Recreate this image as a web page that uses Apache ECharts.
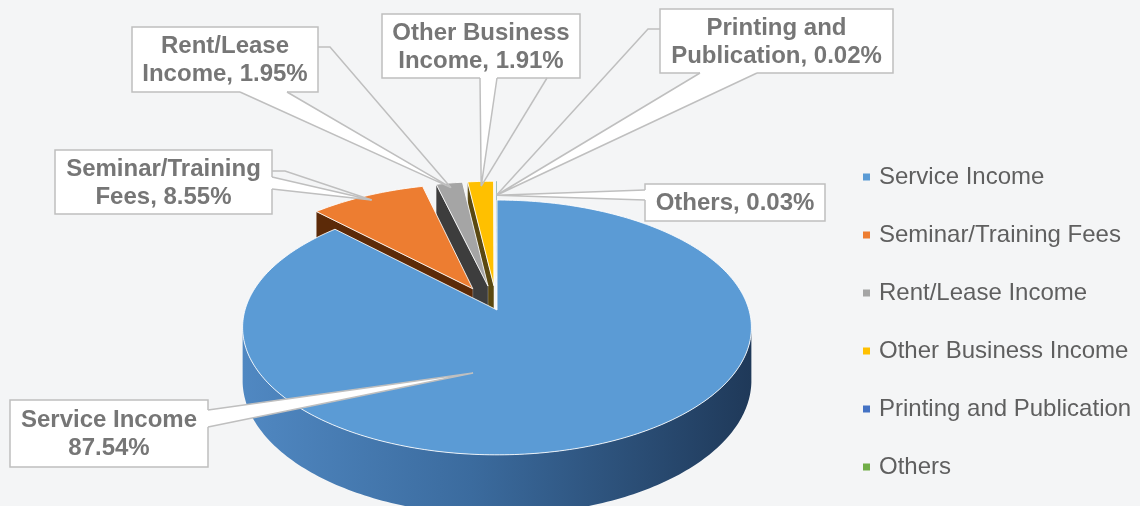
<!DOCTYPE html>
<html>
<head>
<meta charset="utf-8">
<title>Income Distribution</title>
<style>
  html, body { margin: 0; padding: 0; background: #f4f5f6; }
  #chart { width: 1140px; height: 506px; }
</style>
<script src="https://cdn.jsdelivr.net/npm/echarts@6/dist/echarts.min.js"></script>
</head>
<body>
<div id="chart"></div>
<script>
// ---- data ----
const categories = ['Service Income', 'Seminar/Training Fees', 'Rent/Lease Income',
                    'Other Business Income', 'Printing and Publication', 'Others'];
const shares = [87.54, 8.55, 1.95, 1.91, 0.02, 0.03];
// callout wording: first line, and the word that precedes the percentage
const labelHead = ['Service Income', 'Seminar/Training', 'Rent/Lease', 'Other Business', 'Printing and', ''];
const labelTail = ['', 'Fees', 'Income', 'Income', 'Publication', 'Others'];

// ---- styling ----
const topColors  = ['#5B9BD5', '#ED7D31', '#A5A5A5', '#FFC000', '#4472C4', '#70AD47'];
const sideColors = ['#2c5584', '#5c2a08', '#3d3d3d', '#5a4810', '#1f3a6b', '#35561f'];

// tilted disc: centre, radii, perspective strength, wall height
const disc = { cx: 497, cy: 310, rx: 252, ry: 125, persp: 0.137, depth: 52 };
const explode = [0, 0.2, 0.2, 0.2, 0.2, 0.2];

// callout boxes, the base of each pointer and where the pointer lands inside its slice
const callouts = [
  { box: [10, 400, 198, 67],  wedge: [[208, 410], [208, 427]], leader: null,                   anchor: [0.605, 0.48] },
  { box: [55, 150, 217, 64],  wedge: [[272, 177], [272, 189]], leader: [[272, 171], [285, 171]], anchor: [0.5, 0.95] },
  { box: [132, 27, 186, 65],  wedge: [[240, 92], [287, 92]],   leader: [[318, 47], [330, 47]],   anchor: [0.5, 0.95] },
  { box: [382, 14, 198, 64],  wedge: [[480, 78], [497, 78]],   leader: [[547, 78]],               anchor: [0.5, 0.95] },
  { box: [660, 9, 233, 64],   wedge: [[700, 73], [757, 73]],   leader: [[660, 29], [648, 29]],   anchor: [0.5, 0.85] },
  { box: [645, 184, 180, 37], wedge: [[645, 190], [645, 200]], leader: null,                     anchor: [0.5, 0.85] }
];

const total = shares.reduce((a, b) => a + b, 0);
const startAngles = [];
let acc = 0;
shares.forEach(v => { startAngles.push(acc / total * 360); acc += v; });

function calloutText(i) {
  const pct = shares[i].toFixed(2) + '%';
  if (!labelHead[i]) return labelTail[i] + ', ' + pct;
  return labelHead[i] + '\n' + (labelTail[i] ? labelTail[i] + ', ' : '') + pct;
}

const rad = d => d * Math.PI / 180;

function renderSlice(params, api) {
  const i = params.dataIndex;
  const value = api.value(0);
  const a0 = startAngles[i];
  const a1 = a0 + value / total * 360;
  const mid = rad((a0 + a1) / 2);
  const ex = explode[i] * Math.sin(mid);
  const ey = -explode[i] * Math.cos(mid);
  // ground-plane point (unit radius), angle clockwise from 12 o'clock
  const ground = (deg, r) => [ex + r * Math.sin(rad(deg)), ey - r * Math.cos(rad(deg))];
  // perspective projection; lift 0 = top surface, 1 = bottom rim
  const proj = (g, lift) => {
    const s = 1 / (1 - disc.persp * g[1]);
    return [disc.cx + disc.rx * g[0] * s, disc.cy + disc.ry * g[1] * s + disc.depth * s * lift];
  };
  const viewer = [0, 1 / disc.persp];
  const steps = Math.max(2, Math.ceil(a1 - a0));
  const arc = [];
  for (let k = 0; k <= steps; k++) arc.push(a0 + (a1 - a0) * k / steps);

  const base = (categories.length - i) * 10;
  const children = [];

  // outer wall, only where it faces the viewer
  const wallFill = i === 0
    ? new echarts.graphic.LinearGradient(0, 0, 1, 0, [
        { offset: 0, color: '#5088c2' },
        { offset: 0.45, color: '#3b6b9e' },
        { offset: 1, color: '#1f3959' }
      ])
    : sideColors[i];
  let run = [];
  const flush = () => {
    if (run.length > 1) {
      const top = run.map(d => proj(ground(d, 1), 0));
      const bot = run.map(d => proj(ground(d, 1), 1)).reverse();
      children.push({ type: 'polygon', z2: base + 1, shape: { points: top.concat(bot) },
                      style: { fill: wallFill } });
    }
    run = [];
  };
  arc.forEach(d => {
    const g = ground(d, 1);
    const n = [Math.sin(rad(d)), -Math.cos(rad(d))];
    if (n[0] * (viewer[0] - g[0]) + n[1] * (viewer[1] - g[1]) > 0) run.push(d); else flush();
  });
  flush();

  // radial cut faces
  const apex = [ex, ey];
  [[a0, -1], [a1, 1]].forEach(([d, sgn]) => {
    const n = [sgn * Math.cos(rad(d)), sgn * Math.sin(rad(d))];
    const o = ground(d, 1);
    const m = [(apex[0] + o[0]) / 2, (apex[1] + o[1]) / 2];
    if (n[0] * (viewer[0] - m[0]) + n[1] * (viewer[1] - m[1]) > 1e-6 && a1 - a0 > 0.5) {
      children.push({ type: 'polygon', z2: base + 2,
        shape: { points: [proj(apex, 0), proj(o, 0), proj(o, 1), proj(apex, 1)] },
        style: { fill: sideColors[i], stroke: 'rgba(255,255,255,0.45)', lineWidth: 0.6 } });
    }
  });

  // top surface
  const tiny = a1 - a0 < 0.5;
  children.push({ type: 'polygon', z2: base + 3,
    shape: { points: [proj(apex, 0)].concat(arc.map(d => proj(ground(d, 1), 0))) },
    style: { fill: topColors[i], stroke: tiny ? null : 'rgba(255,255,255,0.85)', lineWidth: 1, lineJoin: 'round' } });

  // callout
  const c = callouts[i];
  const tip = proj(ground(a0 + (a1 - a0) * c.anchor[0], c.anchor[1]), 0);
  const [bx, by, bw, bh] = c.box;
  const inset = p => {
    let [x, y] = p;
    if (Math.abs(x - (bx + bw)) < 1) x -= 2;
    else if (Math.abs(x - bx) < 1) x += 2;
    else if (Math.abs(y - (by + bh)) < 1) y -= 2;
    else if (Math.abs(y - by) < 1) y += 2;
    return [x, y];
  };
  const [w1, w2] = c.wedge;
  children.push({ type: 'rect', z2: 100, shape: { x: bx, y: by, width: bw, height: bh },
                  style: { fill: '#ffffff', stroke: '#bfbfbf', lineWidth: 1.5 } });
  if (c.leader) {
    children.push({ type: 'polyline', z2: 100, shape: { points: c.leader.concat([tip]) },
                    style: { fill: null, stroke: '#bfbfbf', lineWidth: 1.5 } });
  }
  children.push({ type: 'polygon', z2: 101, shape: { points: [inset(w1), w1, tip, w2, inset(w2)] },
                  style: { fill: '#ffffff' } });
  children.push({ type: 'polyline', z2: 102, shape: { points: [w1, tip, w2] },
                  style: { fill: null, stroke: '#bfbfbf', lineWidth: 1.5 } });
  children.push({ type: 'text', z2: 103,
    style: { text: calloutText(i), x: bx + bw / 2, y: by + bh / 2 + 1, align: 'center', verticalAlign: 'middle',
             fontFamily: '"Liberation Sans", Arial, sans-serif', fontWeight: 'bold', fontSize: 24,
             lineHeight: 28, fill: '#767676' } });

  return { type: 'group', children };
}

const chart = echarts.init(document.getElementById('chart'), null, { renderer: 'canvas' });
chart.setOption({
  backgroundColor: '#f4f5f6',
  animation: false,
  legend: {
    orient: 'vertical', left: 858, top: 160,
    icon: 'rect', itemWidth: 7, itemHeight: 7, itemGap: 34,
    textStyle: { fontFamily: '"Liberation Sans", Arial, sans-serif', fontSize: 24, lineHeight: 24,
                 color: '#5f5f5f', padding: [0, 0, 0, 4] },
    data: categories
  },
  series: [
    {
      // supplies the legend entries and their colours
      type: 'pie', radius: [0, 0], center: [-50, -50], silent: true,
      label: { show: false }, labelLine: { show: false },
      data: categories.map((name, i) => ({ name, value: shares[i], itemStyle: { color: topColors[i] } }))
    },
    {
      type: 'custom', coordinateSystem: 'none', silent: true,
      renderItem: renderSlice,
      data: shares.map(v => [v])
    }
  ]
});
</script>
</body>
</html>
